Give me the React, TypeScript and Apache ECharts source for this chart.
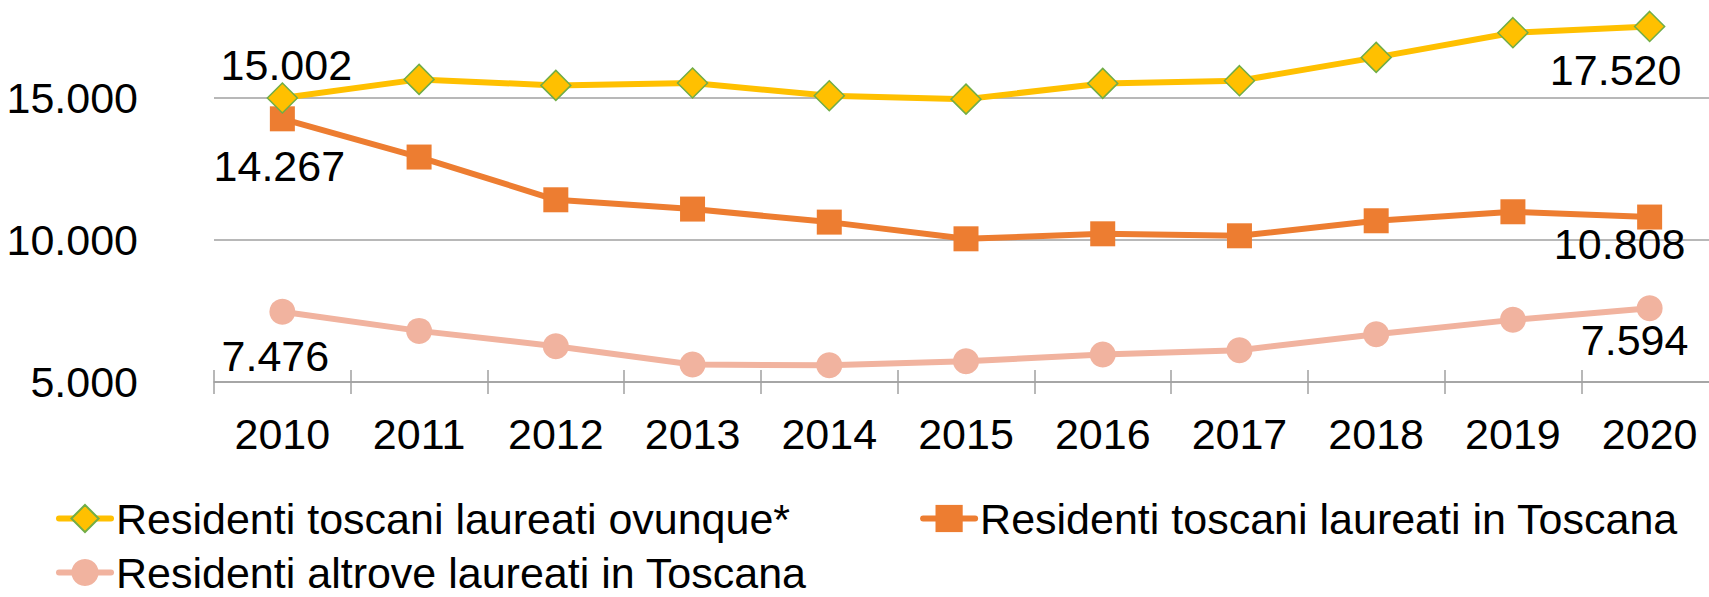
import React, { useEffect, useRef } from "react";
import * as echarts from "echarts";

const years = ["2010", "2011", "2012", "2013", "2014", "2015", "2016", "2017", "2018", "2019", "2020"];
const ovunque = [15002, 15655, 15444, 15528, 15081, 14960, 15514, 15610, 16430, 17300, 17520];
const inToscana = [14267, 12921, 11416, 11089, 10630, 10042, 10218, 10148, 10677, 10994, 10808];
const altrove = [7476, 6800, 6261, 5613, 5592, 5733, 5966, 6121, 6685, 7188, 7594];
const names = [
  "Residenti toscani laureati ovunque*",
  "Residenti toscani laureati in Toscana",
  "Residenti altrove laureati in Toscana",
];

const FONT = "'Liberation Sans', Arial, sans-serif";
const FS = 43;
const SHIFT = 44; // chart canvas extends above the visible page
const fmt = (v: number) => String(v).replace(/\B(?=(\d{3})+(?!\d))/g, ".");

function withEndLabels(values: number[], first: number[], last: number[]) {
  return values.map((v, i) => {
    if (i === 0 || i === values.length - 1) {
      const off = i === 0 ? first : last;
      return {
        value: v,
        label: {
          show: true,
          position: "inside",
          offset: off,
          formatter: (p: any) => fmt(p.value),
          color: "#000",
          fontSize: FS,
          fontFamily: FONT,
          align: "center",
          verticalAlign: "middle",
        },
      };
    }
    return v;
  });
}

export default function App() {
  const ref = useRef<HTMLDivElement>(null);
  useEffect(() => {
    if (!ref.current) return;
    const chart = echarts.init(ref.current, null, { renderer: "svg" });
    const legendBase = {
      orient: "horizontal",
      padding: 0,
      itemWidth: 52,
      itemHeight: 34,
      lineStyle: { width: 6, cap: "round" },
      textStyle: { fontSize: FS, fontFamily: FONT, color: "#000" },
    };
    chart.setOption({
      animation: false,
      backgroundColor: "#fff",
      grid: { left: 214, right: 0, top: 0, bottom: 215, containLabel: false },
      legend: [
        { ...legendBase, data: [names[0], names[1]], left: 56, top: 497 + SHIFT, itemGap: 130 },
        { ...legendBase, data: [names[2]], left: 56, top: 551 + SHIFT },
      ],
      xAxis: [
        {
          type: "category",
          data: years,
          boundaryGap: true,
          position: "bottom",
          axisLine: { show: true, lineStyle: { color: "#a0a0a0", width: 1.5 } },
          axisTick: { show: true, length: 12, lineStyle: { color: "#a0a0a0", width: 1.5 } },
          axisLabel: { fontSize: FS, fontFamily: FONT, color: "#000", margin: 30 },
        },
        {
          type: "category",
          data: years,
          boundaryGap: true,
          position: "bottom",
          axisLine: { show: false },
          axisTick: { show: true, inside: true, length: 12, lineStyle: { color: "#a0a0a0", width: 1.5 } },
          axisLabel: { show: false },
        },
      ],
      yAxis: {
        type: "value",
        min: 5000,
        max: 20000,
        interval: 5000,
        axisLine: { show: false },
        axisTick: { show: false },
        axisLabel: {
          fontSize: FS,
          fontFamily: FONT,
          color: "#000",
          margin: 76,
          showMaxLabel: false,
          formatter: (v: number) => fmt(v),
        },
        splitLine: { show: true, lineStyle: { color: "#a0a0a0", width: 1.5 } },
      },
      series: [
        {
          name: names[0],
          type: "line",
          xAxisIndex: 0,
          data: withEndLabels(ovunque, [4, -33], [-34, 44]),
          symbol: "diamond",
          symbolSize: [30, 30],
          lineStyle: { color: "#FFC000", width: 6 },
          itemStyle: { color: "#FFC000", borderColor: "#70AD47", borderWidth: 1.5 },
          z: 4,
        },
        {
          name: names[1],
          type: "line",
          xAxisIndex: 0,
          data: withEndLabels(inToscana, [-3, 47], [-30, 27]),
          symbol: "rect",
          symbolSize: 25,
          lineStyle: { color: "#ED7D31", width: 6 },
          itemStyle: { color: "#ED7D31", borderWidth: 0 },
          z: 3,
        },
        {
          name: names[2],
          type: "line",
          xAxisIndex: 0,
          data: withEndLabels(altrove, [-7, 44], [-15, 32]),
          symbol: "circle",
          symbolSize: 26,
          lineStyle: { color: "#F1B39F", width: 6 },
          itemStyle: { color: "#F1B39F", borderWidth: 0 },
          z: 2,
        },
      ],
    });
    return () => chart.dispose();
  }, []);
  return (
    <div style={{ position: "fixed", left: 0, top: 0, width: 1709, height: 597, overflow: "hidden", background: "#fff" }}>
      <div
        ref={ref}
        style={{ position: "absolute", left: 0, top: -SHIFT, width: 1718, height: 597 + SHIFT }}
      />
    </div>
  );
}
